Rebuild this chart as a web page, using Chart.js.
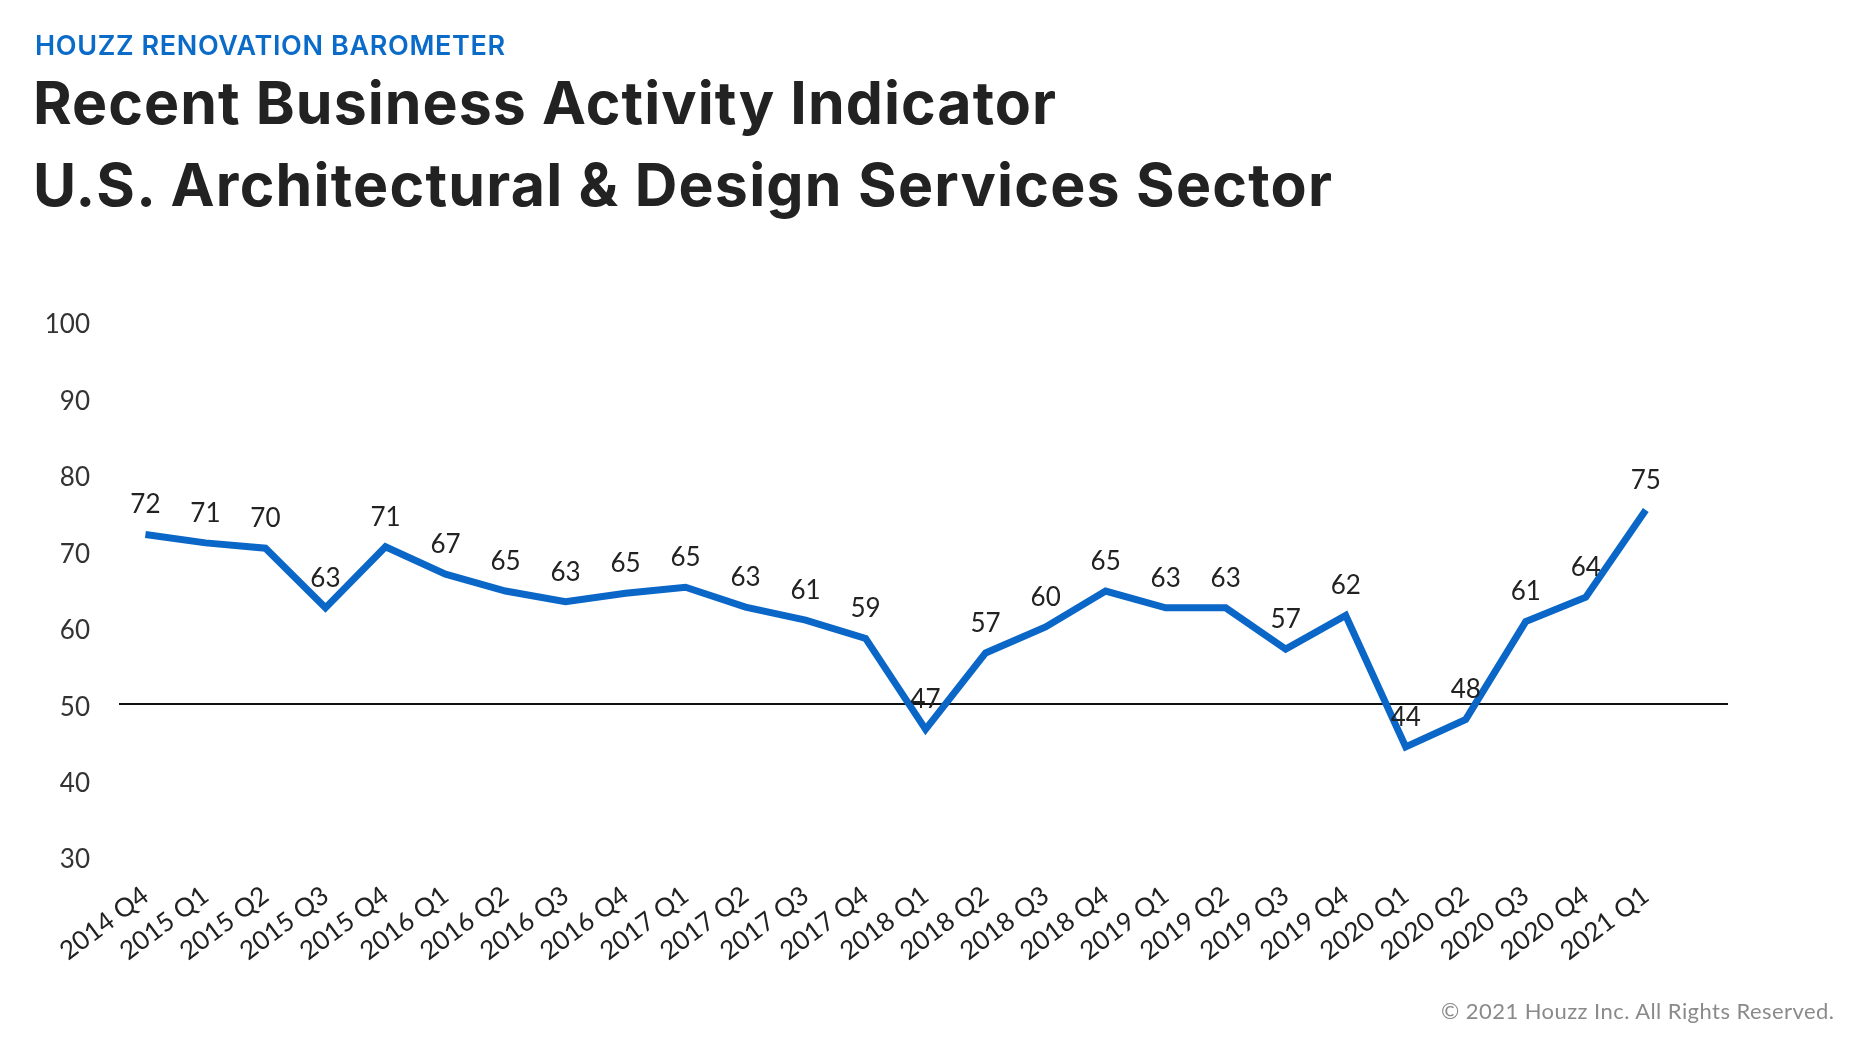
<!DOCTYPE html>
<html>
<head>
<meta charset="utf-8">
<script src="https://cdn.jsdelivr.net/npm/chart.js@4.4.1/dist/chart.umd.min.js"></script>
<style>
  html, body { margin: 0; padding: 0; background: #ffffff; width: 1868px; height: 1060px; overflow: hidden; }
  #wrap { position: relative; width: 1868px; height: 1060px; }
  #chart { position: absolute; left: 0; top: 0; }
  .txt { position: absolute; white-space: nowrap; line-height: 1; }
  #kicker { left: 35px; top: 29px; font: 600 27px Inter, Lato, sans-serif; color: #0b6bc9; }
  #title1 { left: 33px; top: 67px; font: 700 59px Inter, Lato, sans-serif; color: #222222; }
  #title2 { left: 33px; top: 149px; font: 700 59px Inter, Lato, sans-serif; color: #222222; }
  #copy { left: 1441px; top: 997px; font: 400 22px Lato, sans-serif; color: #8a8a8a; }
</style>
</head>
<body>
<div id="wrap">
  <canvas id="chart" width="1868" height="1060"></canvas>
  <div class="txt" id="kicker">HOUZZ RENOVATION BAROMETER</div>
  <div class="txt" id="title1">Recent Business Activity Indicator</div>
  <div class="txt" id="title2">U.S. Architectural &amp; Design Services Sector</div>
  <div class="txt" id="copy">© 2021 Houzz Inc. All Rights Reserved.</div>
</div>
<script>
// ---- data ----
const categories = [
  '2014 Q4',
  '2015 Q1', '2015 Q2', '2015 Q3', '2015 Q4',
  '2016 Q1', '2016 Q2', '2016 Q3', '2016 Q4',
  '2017 Q1', '2017 Q2', '2017 Q3', '2017 Q4',
  '2018 Q1', '2018 Q2', '2018 Q3', '2018 Q4',
  '2019 Q1', '2019 Q2', '2019 Q3', '2019 Q4',
  '2020 Q1', '2020 Q2', '2020 Q3', '2020 Q4',
  '2021 Q1'
];
const indicatorValues = [
  72.2,
  71.1, 70.4, 62.6, 70.6,
  67.0, 64.8, 63.4, 64.5,
  65.3, 62.7, 61.0, 58.6,
  46.7, 56.7, 60.1, 64.8,
  62.6, 62.6, 57.2, 61.6,
  44.4, 48.0, 60.8, 64.0,
  75.4
];
const yTickValues = [30, 40, 50, 60, 70, 80, 90, 100];
const referenceLevel = 50;

// ---- text fitting (match the reference's typeface widths) ----
function fitText(id, targetWidth) {
  const el = document.getElementById(id);
  el.style.letterSpacing = '0px';
  const natural = el.getBoundingClientRect().width;
  const n = el.textContent.length;
  el.style.letterSpacing = ((targetWidth - natural) / (n - 1)) + 'px';
}
fitText('kicker', 470);
fitText('title1', 1023);
fitText('title2', 1299);
fitText('copy', 393);

// ---- chart ----
const points = indicatorValues.map((v, i) => ({ x: i, y: v }));

const valueLabels = {
  id: 'valueLabels',
  afterDatasetsDraw(chart) {
    const meta = chart.getDatasetMeta(0);
    const ctx = chart.ctx;
    ctx.save();
    ctx.font = '400 26px Lato, sans-serif';
    ctx.fillStyle = '#222222';
    ctx.textAlign = 'center';
    ctx.textBaseline = 'middle';
    meta.data.forEach((pt, i) => {
      ctx.fillText(String(Math.round(indicatorValues[i])), pt.x, pt.y - 29.5);
    });
    ctx.restore();
  }
};

new Chart(document.getElementById('chart'), {
  type: 'line',
  data: {
    datasets: [{
      data: points,
      borderColor: '#0a67c7',
      borderWidth: 7,
      borderJoinStyle: 'miter',
      borderCapStyle: 'butt',
      tension: 0,
      pointRadius: 0,
      pointHoverRadius: 0,
      fill: false
    }]
  },
  options: {
    responsive: false,
    animation: false,
    devicePixelRatio: 1,
    layout: { padding: { left: 0, right: 140, top: 322, bottom: 0 } },
    plugins: { legend: { display: false }, tooltip: { enabled: false } },
    scales: {
      x: {
        type: 'linear',
        min: -0.44,
        max: 26.37,
        grid: { display: false },
        border: { display: false },
        afterFit(scale) { scale.height = 203; },
        ticks: {
          stepSize: 1,
          maxTicksLimit: 100,
          autoSkip: false,
          includeBounds: false,
          minRotation: 37,
          maxRotation: 37,
          padding: 15,
          color: '#222222',
          font: { family: 'Lato, sans-serif', size: 26 },
          callback(value) {
            return Number.isInteger(value) && categories[value] !== undefined ? categories[value] : '';
          }
        }
      },
      y: {
        min: 30,
        max: 100,
        afterFit(scale) { scale.width = 119; },
        afterBuildTicks(scale) { scale.ticks = yTickValues.map(v => ({ value: v })); },
        border: { display: false },
        grid: {
          drawTicks: false,
          lineWidth: 2,
          color(ctx) { return ctx.tick && ctx.tick.value === referenceLevel ? '#111111' : 'rgba(0,0,0,0)'; }
        },
        ticks: {
          padding: 29,
          labelOffset: 3,
          color: '#333333',
          font: { family: 'Lato, sans-serif', size: 26 }
        }
      }
    }
  },
  plugins: [valueLabels]
});
</script>
</body>
</html>
